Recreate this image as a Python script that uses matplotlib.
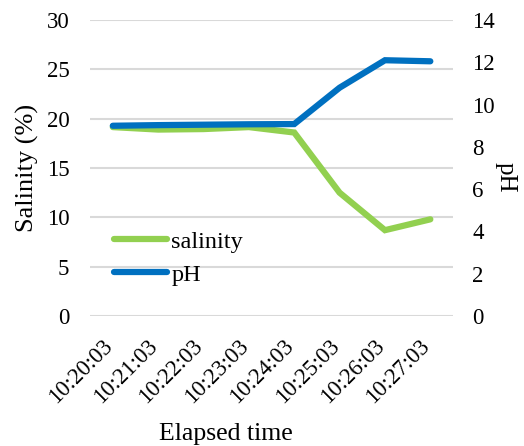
import matplotlib
matplotlib.use("Agg")
import matplotlib.pyplot as plt
from matplotlib.transforms import ScaledTranslation

times = ["10:20:03", "10:21:03", "10:22:03", "10:23:03",
         "10:24:03", "10:25:03", "10:26:03", "10:27:03"]
salinity = [19.15, 18.9, 18.95, 19.15, 18.6, 12.5, 8.7, 9.8]
ph = [9.0, 9.03, 9.05, 9.07, 9.08, 10.8, 12.1, 12.05]

plt.rcParams["font.family"] = ["Liberation Serif", "DejaVu Serif"]

GREEN = "#92d050"
BLUE = "#0070c0"
GRID = "#d9d9d9"

fig = plt.figure(figsize=(5.24, 4.46), dpi=100)
ax = fig.add_axes([0.172, 0.2915, 0.6925, 0.6635])
ax2 = ax.twinx()

x = list(range(len(times)))
l1, = ax.plot(x, salinity, color=GREEN, lw=4.5, solid_capstyle="round",
              solid_joinstyle="miter", label="salinity", zorder=3)
l2, = ax2.plot(x, ph, color=BLUE, lw=4.5, solid_capstyle="round",
               solid_joinstyle="miter", label="pH", zorder=3)

ax.set_xlim(-0.5, len(times) - 0.5)
ax.set_ylim(0, 30)
ax.set_yticks(range(0, 31, 5))
ax2.set_ylim(0, 14)
ax2.set_yticks(range(0, 15, 2))

ax.yaxis.grid(True, color=GRID, lw=1.5)
ax.set_axisbelow(True)
for a in (ax, ax2):
    for s in a.spines.values():
        s.set_visible(False)
    a.tick_params(length=0, labelsize=16.5)
ax.tick_params(axis="y", pad=15)
ax2.tick_params(axis="y", pad=14)

ax.set_xticks(x)
ax.set_xticklabels(times, rotation=45, ha="right", rotation_mode="anchor")
ax.tick_params(axis="x", pad=14, labelsize=16.5)
shift = ScaledTranslation(-8 / 72, 0, fig.dpi_scale_trans)
for lbl in ax.get_xticklabels():
    lbl.set_transform(lbl.get_transform() + shift)

ax.set_ylabel("Salinity (%)", fontsize=19, va="center")
ax.yaxis.set_label_coords(-0.172, 0.5)
ax2.set_ylabel("pH", fontsize=18, rotation=270, va="center")
ax2.yaxis.set_label_coords(1.145, 0.47)
ax.set_xlabel("Elapsed time", fontsize=18.5, va="baseline")
ax.xaxis.set_label_coords(0.375, -0.418)

ax2.legend(handles=[l1, l2], loc="lower left", bbox_to_anchor=(0.04, 0.07),
           frameon=False, fontsize=17.5, handlelength=2.15, handletextpad=0.2,
           labelspacing=0.45, borderaxespad=0)

fig.savefig("out.png", dpi=100)
